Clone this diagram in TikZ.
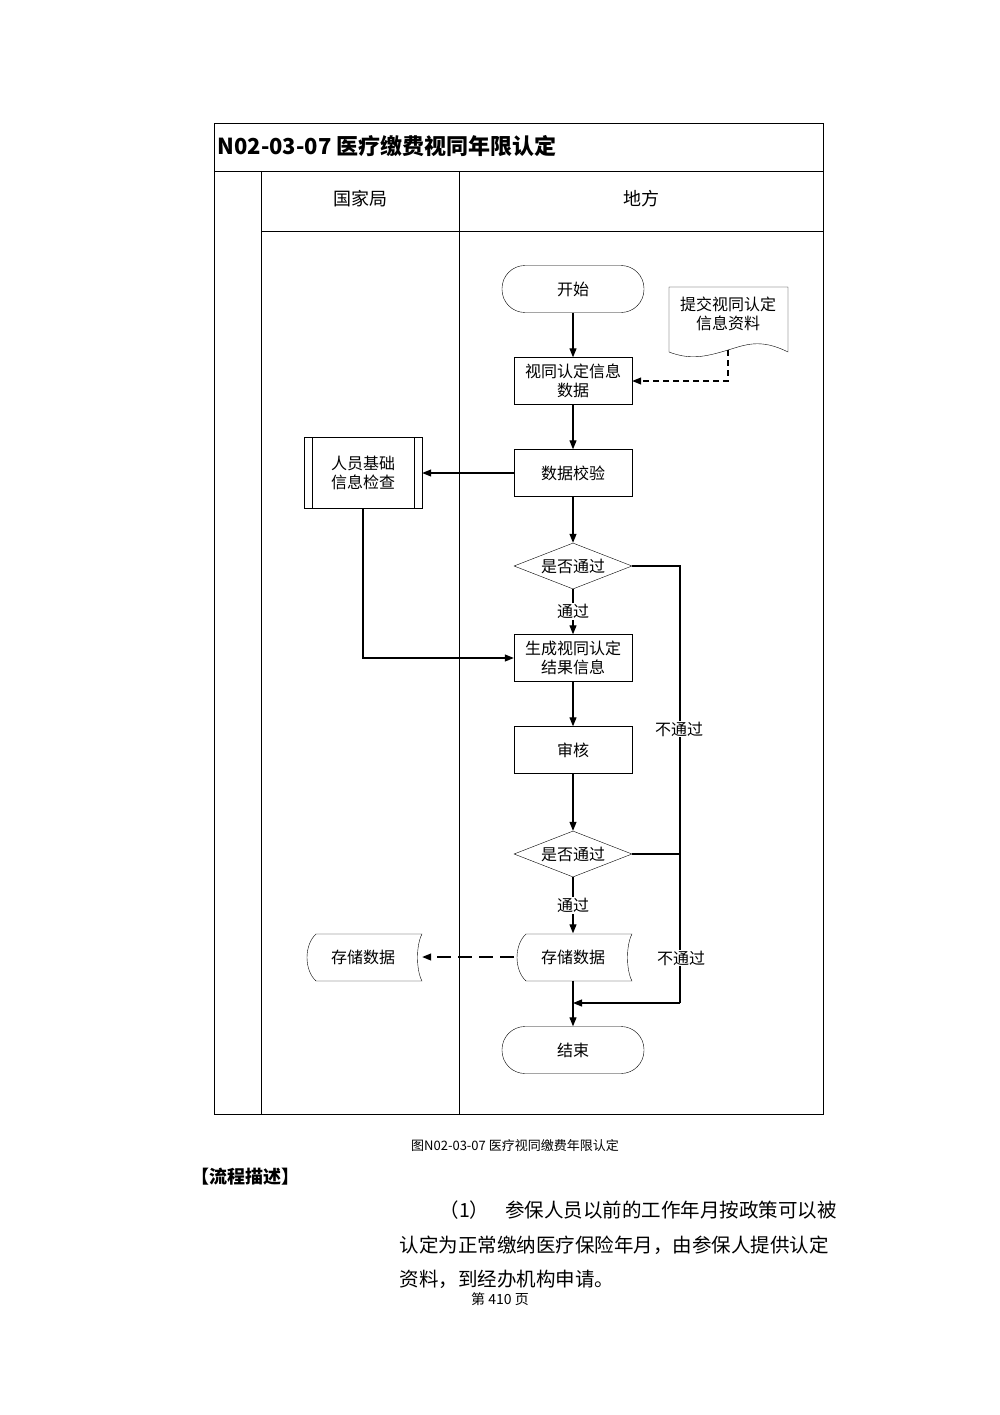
\documentclass[tikz,border=0pt]{standalone}
\usepackage{fontspec}
\setmainfont{Noto Sans CJK SC}
\usetikzlibrary{shapes.geometric,shapes.symbols,arrows.meta}
\begin{document}
\begin{tikzpicture}[x=1pt,y=-1pt,
  t/.style={font=\fontsize{16}{19}\selectfont,align=center},
  box/.style={draw,t,minimum width=118pt,minimum height=47pt,inner sep=1pt},
  term/.style={draw,t,rounded corners=23pt,minimum width=142pt,minimum height=47pt},
  dia/.style={draw,t,diamond,aspect=2.55,minimum width=118pt,minimum height=46pt,inner sep=0pt},
  arr/.style={-{Triangle[length=9pt,width=7pt]},line width=1.1pt},
  ln/.style={line width=1.1pt},
  para/.style={anchor=west,font=\fontsize{19.5}{22}\selectfont}]
\useasboundingbox (0,0) rectangle (1000,1415);
% frame
\draw (214,123) rectangle (823,1114);
\draw (214,171) -- (823,171);
\draw (261,231) -- (823,231);
\draw (261,171) -- (261,1114);
\draw (459,171) -- (459,1114);
\node[anchor=west,font=\fontsize{22}{25}\selectfont\bfseries] (title) at (214,146) {N02-03-07 医疗缴费视同年限认定};
\node[font=\fontsize{18}{21}\selectfont] (h1) at (360,199) {国家局};
\node[font=\fontsize{18}{21}\selectfont] (h2) at (641,199) {地方};
% nodes
\node[term] (start) at (573,289) {开始};
\node[box] (d1) at (573,381) {视同认定信息\\数据};
\node[box] (d2) at (573,473) {数据校验};
\node[box,minimum height=71pt] (p) at (363,473) {人员基础\\信息检查};
\draw (p.north west) ++(8,0) -- ++(0,71);
\draw (p.north east) ++(-8,0) -- ++(0,71);
\node[dia] (q1) at (573,566) {是否通过};
\node[box] (g) at (573,658) {生成视同认定\\结果信息};
\node[box] (s) at (573,750) {审核};
\node[dia] (q2) at (573,854) {是否通过};
\node[term] (end) at (573,1050) {结束};
% document shape
\draw (669,287) -- (788,287) -- (788,352) .. controls (760,338) and (745,345) .. (728,350) .. controls (705,357) and (690,360) .. (669,352) -- cycle;
\node[t] (doc) at (728,314) {提交视同认定\\信息资料};
\coordinate (docb) at (728,350);
% stored data shapes
\foreach \cx in {573,363}{
 \draw (\cx-47,934) -- (\cx+59,934) .. controls (\cx+53,945) and (\cx+53,970) .. (\cx+59,981) -- (\cx-47,981) .. controls (\cx-59,970) and (\cx-59,945) .. (\cx-47,934);
}
\node[t,minimum width=118pt,minimum height=47pt] (st1) at (573,957) {存储数据};
\node[t,minimum width=118pt,minimum height=47pt] (st2) at (363,957) {存储数据};
% connectors
\draw[arr] (start) -- (d1);
\draw[arr,dash pattern=on 6pt off 4pt] (docb) |- (d1.east);
\draw[arr] (d1) -- (d2);
\draw[arr] (d2) -- (p);
\draw[arr] (d2) -- (q1);
\draw[arr] (q1) -- node[t,fill=white,inner sep=1pt]{通过} (g);
\draw[arr] (p.south) |- (g.west);
\draw[arr] (g) -- (s);
\draw[arr] (s) -- (q2);
\draw[arr] (q2) -- node[t,fill=white,inner sep=1pt]{通过} (st1);
\draw[arr,dash pattern=on 14pt off 7pt] (st1.west) -- (st2.east);
\coordinate (m) at (573,1003);
\draw[ln] (st1.south) -- (m);
\draw[arr] (m) -- (end);
\coordinate (r1) at (680,566);
\coordinate (r2) at (680,1003);
\draw[ln] (q1.east) -- (r1) -- (r2);
\draw[arr] (r2) -- (m);
\draw[ln] (q2.east) -- (680,854);
\node[t,fill=white,inner sep=1pt] (l1) at (679,729) {不通过};
\node[t,fill=white,inner sep=1pt] (l2) at (681,958) {不通过};
% text
\node[font=\fontsize{13}{15}\selectfont] (cap) at (515,1146) {图N02-03-07 医疗视同缴费年限认定};
\node[anchor=west,font=\fontsize{18}{20}\selectfont\bfseries] (pd) at (188,1177) {【流程描述】};
\node[para] (p1) at (436,1210) {（1）\hspace{16pt}参保人员以前的工作年月按政策可以被};
\node[para] (p2) at (396,1245) {认定为正常缴纳医疗保险年月，由参保人提供认定};
\node[para] (p3) at (396,1279) {资料，到经办机构申请。};
\node[font=\fontsize{14}{16}\selectfont] (pg) at (500,1299) {第 410 页};
\end{tikzpicture}
\end{document}
